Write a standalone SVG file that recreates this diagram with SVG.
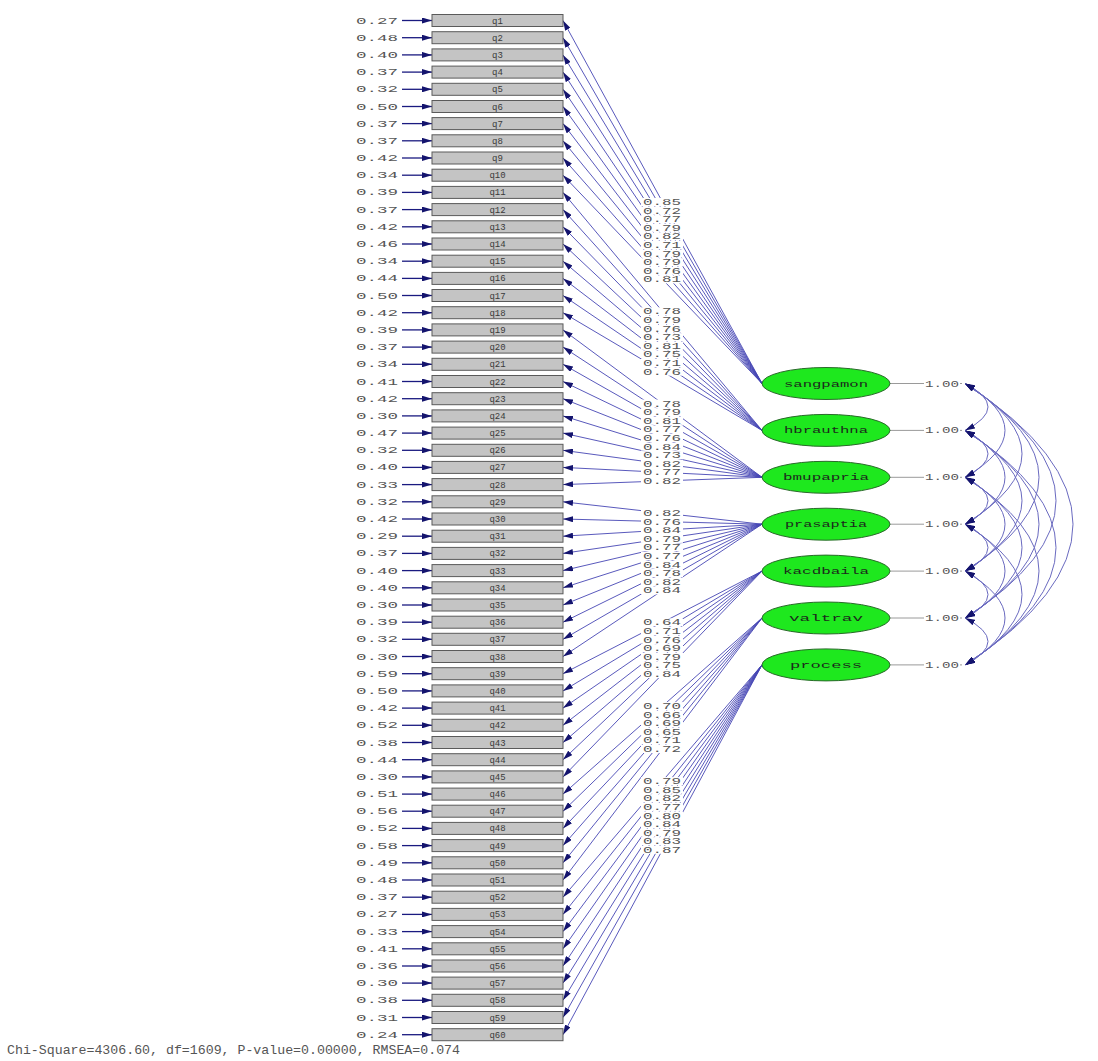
<svg xmlns="http://www.w3.org/2000/svg" width="1098" height="1061" viewBox="0 0 1098 1061">
<defs>
<marker id="ah" viewBox="0 0 10 6" refX="10" refY="3" markerWidth="10" markerHeight="6" markerUnits="userSpaceOnUse" orient="auto-start-reverse"><path d="M0,0L10,3L0,6z" fill="#14146e"/></marker>
<style>
.box{fill:#c4c4c4;stroke:#5a5a5a;stroke-width:1}
.bl{font-family:"Liberation Mono",monospace;font-size:9px;fill:#3a3a3a;text-anchor:middle}
.err{font-family:"Liberation Mono",monospace;font-size:8.5px;fill:#555;text-anchor:middle}
.ea{stroke:#1a1a80;stroke-width:1.3;fill:none;marker-end:url(#ah)}
.ld{stroke:#4646b4;stroke-width:0.9;fill:none;marker-end:url(#ah)}
.cv{stroke:#6a6ac0;stroke-width:1;fill:none;marker-start:url(#ah);marker-end:url(#ah)}
.vl{stroke:#9a9a9a;stroke-width:1;fill:none}
.lb rect{fill:#fff}
.lb text,.vt{font-family:"Liberation Mono",monospace;font-size:8.5px;fill:#555;text-anchor:middle}
.lat{fill:#1ee81e;stroke:#2a6a2a;stroke-width:1}
.lt{font-family:"Liberation Mono",monospace;font-size:9px;fill:#1c2a1c;text-anchor:middle}
.ft{font-family:"Liberation Mono",monospace;font-size:13.5px;fill:#555}
</style>
</defs>
<rect width="1098" height="1061" fill="#fff"/>
<g id="connectors">
<g id="error-arrows">
<path class="ea" d="M402 20.5H432"/><path class="ea" d="M402 37.7H432"/><path class="ea" d="M402 54.9H432"/><path class="ea" d="M402 72.1H432"/><path class="ea" d="M402 89.3H432"/><path class="ea" d="M402 106.5H432"/><path class="ea" d="M402 123.6H432"/><path class="ea" d="M402 140.8H432"/><path class="ea" d="M402 158H432"/><path class="ea" d="M402 175.2H432"/>
<path class="ea" d="M402 192.4H432"/><path class="ea" d="M402 209.6H432"/><path class="ea" d="M402 226.8H432"/><path class="ea" d="M402 244H432"/><path class="ea" d="M402 261.2H432"/><path class="ea" d="M402 278.4H432"/><path class="ea" d="M402 295.5H432"/><path class="ea" d="M402 312.7H432"/><path class="ea" d="M402 329.9H432"/><path class="ea" d="M402 347.1H432"/>
<path class="ea" d="M402 364.3H432"/><path class="ea" d="M402 381.5H432"/><path class="ea" d="M402 398.7H432"/><path class="ea" d="M402 415.9H432"/><path class="ea" d="M402 433.1H432"/><path class="ea" d="M402 450.3H432"/><path class="ea" d="M402 467.4H432"/><path class="ea" d="M402 484.6H432"/><path class="ea" d="M402 501.8H432"/><path class="ea" d="M402 519H432"/>
<path class="ea" d="M402 536.2H432"/><path class="ea" d="M402 553.4H432"/><path class="ea" d="M402 570.6H432"/><path class="ea" d="M402 587.8H432"/><path class="ea" d="M402 605H432"/><path class="ea" d="M402 622.2H432"/><path class="ea" d="M402 639.3H432"/><path class="ea" d="M402 656.5H432"/><path class="ea" d="M402 673.7H432"/><path class="ea" d="M402 690.9H432"/>
<path class="ea" d="M402 708.1H432"/><path class="ea" d="M402 725.3H432"/><path class="ea" d="M402 742.5H432"/><path class="ea" d="M402 759.7H432"/><path class="ea" d="M402 776.9H432"/><path class="ea" d="M402 794.1H432"/><path class="ea" d="M402 811.2H432"/><path class="ea" d="M402 828.4H432"/><path class="ea" d="M402 845.6H432"/><path class="ea" d="M402 862.8H432"/>
<path class="ea" d="M402 880H432"/><path class="ea" d="M402 897.2H432"/><path class="ea" d="M402 914.4H432"/><path class="ea" d="M402 931.6H432"/><path class="ea" d="M402 948.8H432"/><path class="ea" d="M402 966H432"/><path class="ea" d="M402 983.1H432"/><path class="ea" d="M402 1000.3H432"/><path class="ea" d="M402 1017.5H432"/><path class="ea" d="M402 1034.7H432"/>
</g>
<g id="loadings">
<path class="ld" d="M762 383.5L563 20.5"/><path class="ld" d="M762 383.5L563 37.7"/><path class="ld" d="M762 383.5L563 54.9"/><path class="ld" d="M762 383.5L563 72.1"/><path class="ld" d="M762 383.5L563 89.3"/><path class="ld" d="M762 383.5L563 106.5"/><path class="ld" d="M762 383.5L563 123.6"/><path class="ld" d="M762 383.5L563 140.8"/><path class="ld" d="M762 383.5L563 158"/><path class="ld" d="M762 383.5L563 175.2"/>
<path class="ld" d="M762 430.4L563 192.4"/><path class="ld" d="M762 430.4L563 209.6"/><path class="ld" d="M762 430.4L563 226.8"/><path class="ld" d="M762 430.4L563 244"/><path class="ld" d="M762 430.4L563 261.2"/><path class="ld" d="M762 430.4L563 278.4"/><path class="ld" d="M762 430.4L563 295.5"/><path class="ld" d="M762 430.4L563 312.7"/>
<path class="ld" d="M762 477.3L563 329.9"/><path class="ld" d="M762 477.3L563 347.1"/><path class="ld" d="M762 477.3L563 364.3"/><path class="ld" d="M762 477.3L563 381.5"/><path class="ld" d="M762 477.3L563 398.7"/><path class="ld" d="M762 477.3L563 415.9"/><path class="ld" d="M762 477.3L563 433.1"/><path class="ld" d="M762 477.3L563 450.3"/><path class="ld" d="M762 477.3L563 467.4"/><path class="ld" d="M762 477.3L563 484.6"/>
<path class="ld" d="M762 524.2L563 501.8"/><path class="ld" d="M762 524.2L563 519"/><path class="ld" d="M762 524.2L563 536.2"/><path class="ld" d="M762 524.2L563 553.4"/><path class="ld" d="M762 524.2L563 570.6"/><path class="ld" d="M762 524.2L563 587.8"/><path class="ld" d="M762 524.2L563 605"/><path class="ld" d="M762 524.2L563 622.2"/><path class="ld" d="M762 524.2L563 639.3"/><path class="ld" d="M762 524.2L563 656.5"/>
<path class="ld" d="M762 571.1L563 673.7"/><path class="ld" d="M762 571.1L563 690.9"/><path class="ld" d="M762 571.1L563 708.1"/><path class="ld" d="M762 571.1L563 725.3"/><path class="ld" d="M762 571.1L563 742.5"/><path class="ld" d="M762 571.1L563 759.7"/><path class="ld" d="M762 571.1L563 776.9"/>
<path class="ld" d="M762 618L563 794.1"/><path class="ld" d="M762 618L563 811.2"/><path class="ld" d="M762 618L563 828.4"/><path class="ld" d="M762 618L563 845.6"/><path class="ld" d="M762 618L563 862.8"/><path class="ld" d="M762 618L563 880"/>
<path class="ld" d="M762 664.9L563 897.2"/><path class="ld" d="M762 664.9L563 914.4"/><path class="ld" d="M762 664.9L563 931.6"/><path class="ld" d="M762 664.9L563 948.8"/><path class="ld" d="M762 664.9L563 966"/><path class="ld" d="M762 664.9L563 983.1"/><path class="ld" d="M762 664.9L563 1000.3"/><path class="ld" d="M762 664.9L563 1017.5"/><path class="ld" d="M762 664.9L563 1034.7"/>
</g>
<g id="variances">
<path class="vl" d="M890 383.5H962M890 430.4H962M890 477.3H962M890 524.2H962M890 571.1H962M890 618H962M890 664.9H962"/>
</g>
<g id="covariances">
<path class="cv" d="M965 383.5Q1011 406.95 965 430.4"/>
<path class="cv" d="M965 430.4Q1011 453.85 965 477.3"/>
<path class="cv" d="M965 477.3Q1011 500.75 965 524.2"/>
<path class="cv" d="M965 524.2Q1011 547.65 965 571.1"/>
<path class="cv" d="M965 571.1Q1011 594.55 965 618"/>
<path class="cv" d="M965 618Q1011 641.45 965 664.9"/>
<path class="cv" d="M965 383.5Q1045 430.4 965 477.3"/>
<path class="cv" d="M965 430.4Q1045 477.3 965 524.2"/>
<path class="cv" d="M965 477.3Q1045 524.2 965 571.1"/>
<path class="cv" d="M965 524.2Q1045 571.1 965 618"/>
<path class="cv" d="M965 571.1Q1045 618 965 664.9"/>
<path class="cv" d="M965 383.5Q1079 453.85 965 524.2"/>
<path class="cv" d="M965 430.4Q1079 500.75 965 571.1"/>
<path class="cv" d="M965 477.3Q1079 547.65 965 618"/>
<path class="cv" d="M965 524.2Q1079 594.55 965 664.9"/>
<path class="cv" d="M965 383.5Q1113 477.3 965 571.1"/>
<path class="cv" d="M965 430.4Q1113 524.2 965 618"/>
<path class="cv" d="M965 477.3Q1113 571.1 965 664.9"/>
<path class="cv" d="M965 383.5Q1147 500.75 965 618"/>
<path class="cv" d="M965 430.4Q1147 547.65 965 664.9"/>
<path class="cv" d="M965 383.5Q1181 524.2 965 664.9"/>
</g>
<g id="loading-labels" class="lb">
<g transform="translate(662,202)"><rect x="-21" y="-4" width="42" height="8"/><text y="3" textLength="38" lengthAdjust="spacingAndGlyphs">0.85</text></g>
<g transform="translate(662,210.6)"><rect x="-21" y="-4" width="42" height="8"/><text y="3" textLength="38" lengthAdjust="spacingAndGlyphs">0.72</text></g>
<g transform="translate(662,219.2)"><rect x="-21" y="-4" width="42" height="8"/><text y="3" textLength="38" lengthAdjust="spacingAndGlyphs">0.77</text></g>
<g transform="translate(662,227.8)"><rect x="-21" y="-4" width="42" height="8"/><text y="3" textLength="38" lengthAdjust="spacingAndGlyphs">0.79</text></g>
<g transform="translate(662,236.4)"><rect x="-21" y="-4" width="42" height="8"/><text y="3" textLength="38" lengthAdjust="spacingAndGlyphs">0.82</text></g>
<g transform="translate(662,245)"><rect x="-21" y="-4" width="42" height="8"/><text y="3" textLength="38" lengthAdjust="spacingAndGlyphs">0.71</text></g>
<g transform="translate(662,253.6)"><rect x="-21" y="-4" width="42" height="8"/><text y="3" textLength="38" lengthAdjust="spacingAndGlyphs">0.79</text></g>
<g transform="translate(662,262.2)"><rect x="-21" y="-4" width="42" height="8"/><text y="3" textLength="38" lengthAdjust="spacingAndGlyphs">0.79</text></g>
<g transform="translate(662,270.8)"><rect x="-21" y="-4" width="42" height="8"/><text y="3" textLength="38" lengthAdjust="spacingAndGlyphs">0.76</text></g>
<g transform="translate(662,279.4)"><rect x="-21" y="-4" width="42" height="8"/><text y="3" textLength="38" lengthAdjust="spacingAndGlyphs">0.81</text></g>
<g transform="translate(662,311.4)"><rect x="-21" y="-4" width="42" height="8"/><text y="3" textLength="38" lengthAdjust="spacingAndGlyphs">0.78</text></g>
<g transform="translate(662,320)"><rect x="-21" y="-4" width="42" height="8"/><text y="3" textLength="38" lengthAdjust="spacingAndGlyphs">0.79</text></g>
<g transform="translate(662,328.6)"><rect x="-21" y="-4" width="42" height="8"/><text y="3" textLength="38" lengthAdjust="spacingAndGlyphs">0.76</text></g>
<g transform="translate(662,337.2)"><rect x="-21" y="-4" width="42" height="8"/><text y="3" textLength="38" lengthAdjust="spacingAndGlyphs">0.73</text></g>
<g transform="translate(662,345.8)"><rect x="-21" y="-4" width="42" height="8"/><text y="3" textLength="38" lengthAdjust="spacingAndGlyphs">0.81</text></g>
<g transform="translate(662,354.4)"><rect x="-21" y="-4" width="42" height="8"/><text y="3" textLength="38" lengthAdjust="spacingAndGlyphs">0.75</text></g>
<g transform="translate(662,363)"><rect x="-21" y="-4" width="42" height="8"/><text y="3" textLength="38" lengthAdjust="spacingAndGlyphs">0.71</text></g>
<g transform="translate(662,371.6)"><rect x="-21" y="-4" width="42" height="8"/><text y="3" textLength="38" lengthAdjust="spacingAndGlyphs">0.76</text></g>
<g transform="translate(662,403.6)"><rect x="-21" y="-4" width="42" height="8"/><text y="3" textLength="38" lengthAdjust="spacingAndGlyphs">0.78</text></g>
<g transform="translate(662,412.2)"><rect x="-21" y="-4" width="42" height="8"/><text y="3" textLength="38" lengthAdjust="spacingAndGlyphs">0.79</text></g>
<g transform="translate(662,420.8)"><rect x="-21" y="-4" width="42" height="8"/><text y="3" textLength="38" lengthAdjust="spacingAndGlyphs">0.81</text></g>
<g transform="translate(662,429.4)"><rect x="-21" y="-4" width="42" height="8"/><text y="3" textLength="38" lengthAdjust="spacingAndGlyphs">0.77</text></g>
<g transform="translate(662,438)"><rect x="-21" y="-4" width="42" height="8"/><text y="3" textLength="38" lengthAdjust="spacingAndGlyphs">0.76</text></g>
<g transform="translate(662,446.6)"><rect x="-21" y="-4" width="42" height="8"/><text y="3" textLength="38" lengthAdjust="spacingAndGlyphs">0.84</text></g>
<g transform="translate(662,455.2)"><rect x="-21" y="-4" width="42" height="8"/><text y="3" textLength="38" lengthAdjust="spacingAndGlyphs">0.73</text></g>
<g transform="translate(662,463.8)"><rect x="-21" y="-4" width="42" height="8"/><text y="3" textLength="38" lengthAdjust="spacingAndGlyphs">0.82</text></g>
<g transform="translate(662,472.4)"><rect x="-21" y="-4" width="42" height="8"/><text y="3" textLength="38" lengthAdjust="spacingAndGlyphs">0.77</text></g>
<g transform="translate(662,481)"><rect x="-21" y="-4" width="42" height="8"/><text y="3" textLength="38" lengthAdjust="spacingAndGlyphs">0.82</text></g>
<g transform="translate(662,513)"><rect x="-21" y="-4" width="42" height="8"/><text y="3" textLength="38" lengthAdjust="spacingAndGlyphs">0.82</text></g>
<g transform="translate(662,521.6)"><rect x="-21" y="-4" width="42" height="8"/><text y="3" textLength="38" lengthAdjust="spacingAndGlyphs">0.76</text></g>
<g transform="translate(662,530.2)"><rect x="-21" y="-4" width="42" height="8"/><text y="3" textLength="38" lengthAdjust="spacingAndGlyphs">0.84</text></g>
<g transform="translate(662,538.8)"><rect x="-21" y="-4" width="42" height="8"/><text y="3" textLength="38" lengthAdjust="spacingAndGlyphs">0.79</text></g>
<g transform="translate(662,547.4)"><rect x="-21" y="-4" width="42" height="8"/><text y="3" textLength="38" lengthAdjust="spacingAndGlyphs">0.77</text></g>
<g transform="translate(662,556)"><rect x="-21" y="-4" width="42" height="8"/><text y="3" textLength="38" lengthAdjust="spacingAndGlyphs">0.77</text></g>
<g transform="translate(662,564.6)"><rect x="-21" y="-4" width="42" height="8"/><text y="3" textLength="38" lengthAdjust="spacingAndGlyphs">0.84</text></g>
<g transform="translate(662,573.2)"><rect x="-21" y="-4" width="42" height="8"/><text y="3" textLength="38" lengthAdjust="spacingAndGlyphs">0.78</text></g>
<g transform="translate(662,581.8)"><rect x="-21" y="-4" width="42" height="8"/><text y="3" textLength="38" lengthAdjust="spacingAndGlyphs">0.82</text></g>
<g transform="translate(662,590.4)"><rect x="-21" y="-4" width="42" height="8"/><text y="3" textLength="38" lengthAdjust="spacingAndGlyphs">0.84</text></g>
<g transform="translate(662,622.4)"><rect x="-21" y="-4" width="42" height="8"/><text y="3" textLength="38" lengthAdjust="spacingAndGlyphs">0.64</text></g>
<g transform="translate(662,631)"><rect x="-21" y="-4" width="42" height="8"/><text y="3" textLength="38" lengthAdjust="spacingAndGlyphs">0.71</text></g>
<g transform="translate(662,639.6)"><rect x="-21" y="-4" width="42" height="8"/><text y="3" textLength="38" lengthAdjust="spacingAndGlyphs">0.76</text></g>
<g transform="translate(662,648.2)"><rect x="-21" y="-4" width="42" height="8"/><text y="3" textLength="38" lengthAdjust="spacingAndGlyphs">0.69</text></g>
<g transform="translate(662,656.8)"><rect x="-21" y="-4" width="42" height="8"/><text y="3" textLength="38" lengthAdjust="spacingAndGlyphs">0.79</text></g>
<g transform="translate(662,665.4)"><rect x="-21" y="-4" width="42" height="8"/><text y="3" textLength="38" lengthAdjust="spacingAndGlyphs">0.75</text></g>
<g transform="translate(662,674)"><rect x="-21" y="-4" width="42" height="8"/><text y="3" textLength="38" lengthAdjust="spacingAndGlyphs">0.84</text></g>
<g transform="translate(662,706.1)"><rect x="-21" y="-4" width="42" height="8"/><text y="3" textLength="38" lengthAdjust="spacingAndGlyphs">0.70</text></g>
<g transform="translate(662,714.6)"><rect x="-21" y="-4" width="42" height="8"/><text y="3" textLength="38" lengthAdjust="spacingAndGlyphs">0.66</text></g>
<g transform="translate(662,723.2)"><rect x="-21" y="-4" width="42" height="8"/><text y="3" textLength="38" lengthAdjust="spacingAndGlyphs">0.69</text></g>
<g transform="translate(662,731.8)"><rect x="-21" y="-4" width="42" height="8"/><text y="3" textLength="38" lengthAdjust="spacingAndGlyphs">0.65</text></g>
<g transform="translate(662,740.4)"><rect x="-21" y="-4" width="42" height="8"/><text y="3" textLength="38" lengthAdjust="spacingAndGlyphs">0.71</text></g>
<g transform="translate(662,749)"><rect x="-21" y="-4" width="42" height="8"/><text y="3" textLength="38" lengthAdjust="spacingAndGlyphs">0.72</text></g>
<g transform="translate(662,781.1)"><rect x="-21" y="-4" width="42" height="8"/><text y="3" textLength="38" lengthAdjust="spacingAndGlyphs">0.79</text></g>
<g transform="translate(662,789.7)"><rect x="-21" y="-4" width="42" height="8"/><text y="3" textLength="38" lengthAdjust="spacingAndGlyphs">0.85</text></g>
<g transform="translate(662,798.3)"><rect x="-21" y="-4" width="42" height="8"/><text y="3" textLength="38" lengthAdjust="spacingAndGlyphs">0.82</text></g>
<g transform="translate(662,806.9)"><rect x="-21" y="-4" width="42" height="8"/><text y="3" textLength="38" lengthAdjust="spacingAndGlyphs">0.77</text></g>
<g transform="translate(662,815.5)"><rect x="-21" y="-4" width="42" height="8"/><text y="3" textLength="38" lengthAdjust="spacingAndGlyphs">0.80</text></g>
<g transform="translate(662,824)"><rect x="-21" y="-4" width="42" height="8"/><text y="3" textLength="38" lengthAdjust="spacingAndGlyphs">0.84</text></g>
<g transform="translate(662,832.6)"><rect x="-21" y="-4" width="42" height="8"/><text y="3" textLength="38" lengthAdjust="spacingAndGlyphs">0.79</text></g>
<g transform="translate(662,841.2)"><rect x="-21" y="-4" width="42" height="8"/><text y="3" textLength="38" lengthAdjust="spacingAndGlyphs">0.83</text></g>
<g transform="translate(662,849.8)"><rect x="-21" y="-4" width="42" height="8"/><text y="3" textLength="38" lengthAdjust="spacingAndGlyphs">0.87</text></g>
</g>
<g id="variance-labels">
<rect x="924" y="379" width="36" height="9" fill="#fff"/><text class="vt" x="942" y="386.5" textLength="34" lengthAdjust="spacingAndGlyphs">1.00</text>
<rect x="924" y="425.9" width="36" height="9" fill="#fff"/><text class="vt" x="942" y="433.4" textLength="34" lengthAdjust="spacingAndGlyphs">1.00</text>
<rect x="924" y="472.8" width="36" height="9" fill="#fff"/><text class="vt" x="942" y="480.3" textLength="34" lengthAdjust="spacingAndGlyphs">1.00</text>
<rect x="924" y="519.7" width="36" height="9" fill="#fff"/><text class="vt" x="942" y="527.2" textLength="34" lengthAdjust="spacingAndGlyphs">1.00</text>
<rect x="924" y="566.6" width="36" height="9" fill="#fff"/><text class="vt" x="942" y="574.1" textLength="34" lengthAdjust="spacingAndGlyphs">1.00</text>
<rect x="924" y="613.5" width="36" height="9" fill="#fff"/><text class="vt" x="942" y="621" textLength="34" lengthAdjust="spacingAndGlyphs">1.00</text>
<rect x="924" y="660.4" width="36" height="9" fill="#fff"/><text class="vt" x="942" y="667.9" textLength="34" lengthAdjust="spacingAndGlyphs">1.00</text>
</g>
</g>
<g id="indicators">
<g id="q1" transform="translate(0,20.5)"><rect class="box" x="432" y="-6" width="131" height="12"/><text class="bl" x="497.5" y="3">q1</text><text class="err" x="377" y="3" textLength="42" lengthAdjust="spacingAndGlyphs">0.27</text></g>
<g id="q2" transform="translate(0,37.7)"><rect class="box" x="432" y="-6" width="131" height="12"/><text class="bl" x="497.5" y="3">q2</text><text class="err" x="377" y="3" textLength="42" lengthAdjust="spacingAndGlyphs">0.48</text></g>
<g id="q3" transform="translate(0,54.9)"><rect class="box" x="432" y="-6" width="131" height="12"/><text class="bl" x="497.5" y="3">q3</text><text class="err" x="377" y="3" textLength="42" lengthAdjust="spacingAndGlyphs">0.40</text></g>
<g id="q4" transform="translate(0,72.1)"><rect class="box" x="432" y="-6" width="131" height="12"/><text class="bl" x="497.5" y="3">q4</text><text class="err" x="377" y="3" textLength="42" lengthAdjust="spacingAndGlyphs">0.37</text></g>
<g id="q5" transform="translate(0,89.3)"><rect class="box" x="432" y="-6" width="131" height="12"/><text class="bl" x="497.5" y="3">q5</text><text class="err" x="377" y="3" textLength="42" lengthAdjust="spacingAndGlyphs">0.32</text></g>
<g id="q6" transform="translate(0,106.5)"><rect class="box" x="432" y="-6" width="131" height="12"/><text class="bl" x="497.5" y="3">q6</text><text class="err" x="377" y="3" textLength="42" lengthAdjust="spacingAndGlyphs">0.50</text></g>
<g id="q7" transform="translate(0,123.6)"><rect class="box" x="432" y="-6" width="131" height="12"/><text class="bl" x="497.5" y="3">q7</text><text class="err" x="377" y="3" textLength="42" lengthAdjust="spacingAndGlyphs">0.37</text></g>
<g id="q8" transform="translate(0,140.8)"><rect class="box" x="432" y="-6" width="131" height="12"/><text class="bl" x="497.5" y="3">q8</text><text class="err" x="377" y="3" textLength="42" lengthAdjust="spacingAndGlyphs">0.37</text></g>
<g id="q9" transform="translate(0,158)"><rect class="box" x="432" y="-6" width="131" height="12"/><text class="bl" x="497.5" y="3">q9</text><text class="err" x="377" y="3" textLength="42" lengthAdjust="spacingAndGlyphs">0.42</text></g>
<g id="q10" transform="translate(0,175.2)"><rect class="box" x="432" y="-6" width="131" height="12"/><text class="bl" x="497.5" y="3">q10</text><text class="err" x="377" y="3" textLength="42" lengthAdjust="spacingAndGlyphs">0.34</text></g>
<g id="q11" transform="translate(0,192.4)"><rect class="box" x="432" y="-6" width="131" height="12"/><text class="bl" x="497.5" y="3">q11</text><text class="err" x="377" y="3" textLength="42" lengthAdjust="spacingAndGlyphs">0.39</text></g>
<g id="q12" transform="translate(0,209.6)"><rect class="box" x="432" y="-6" width="131" height="12"/><text class="bl" x="497.5" y="3">q12</text><text class="err" x="377" y="3" textLength="42" lengthAdjust="spacingAndGlyphs">0.37</text></g>
<g id="q13" transform="translate(0,226.8)"><rect class="box" x="432" y="-6" width="131" height="12"/><text class="bl" x="497.5" y="3">q13</text><text class="err" x="377" y="3" textLength="42" lengthAdjust="spacingAndGlyphs">0.42</text></g>
<g id="q14" transform="translate(0,244)"><rect class="box" x="432" y="-6" width="131" height="12"/><text class="bl" x="497.5" y="3">q14</text><text class="err" x="377" y="3" textLength="42" lengthAdjust="spacingAndGlyphs">0.46</text></g>
<g id="q15" transform="translate(0,261.2)"><rect class="box" x="432" y="-6" width="131" height="12"/><text class="bl" x="497.5" y="3">q15</text><text class="err" x="377" y="3" textLength="42" lengthAdjust="spacingAndGlyphs">0.34</text></g>
<g id="q16" transform="translate(0,278.4)"><rect class="box" x="432" y="-6" width="131" height="12"/><text class="bl" x="497.5" y="3">q16</text><text class="err" x="377" y="3" textLength="42" lengthAdjust="spacingAndGlyphs">0.44</text></g>
<g id="q17" transform="translate(0,295.5)"><rect class="box" x="432" y="-6" width="131" height="12"/><text class="bl" x="497.5" y="3">q17</text><text class="err" x="377" y="3" textLength="42" lengthAdjust="spacingAndGlyphs">0.50</text></g>
<g id="q18" transform="translate(0,312.7)"><rect class="box" x="432" y="-6" width="131" height="12"/><text class="bl" x="497.5" y="3">q18</text><text class="err" x="377" y="3" textLength="42" lengthAdjust="spacingAndGlyphs">0.42</text></g>
<g id="q19" transform="translate(0,329.9)"><rect class="box" x="432" y="-6" width="131" height="12"/><text class="bl" x="497.5" y="3">q19</text><text class="err" x="377" y="3" textLength="42" lengthAdjust="spacingAndGlyphs">0.39</text></g>
<g id="q20" transform="translate(0,347.1)"><rect class="box" x="432" y="-6" width="131" height="12"/><text class="bl" x="497.5" y="3">q20</text><text class="err" x="377" y="3" textLength="42" lengthAdjust="spacingAndGlyphs">0.37</text></g>
<g id="q21" transform="translate(0,364.3)"><rect class="box" x="432" y="-6" width="131" height="12"/><text class="bl" x="497.5" y="3">q21</text><text class="err" x="377" y="3" textLength="42" lengthAdjust="spacingAndGlyphs">0.34</text></g>
<g id="q22" transform="translate(0,381.5)"><rect class="box" x="432" y="-6" width="131" height="12"/><text class="bl" x="497.5" y="3">q22</text><text class="err" x="377" y="3" textLength="42" lengthAdjust="spacingAndGlyphs">0.41</text></g>
<g id="q23" transform="translate(0,398.7)"><rect class="box" x="432" y="-6" width="131" height="12"/><text class="bl" x="497.5" y="3">q23</text><text class="err" x="377" y="3" textLength="42" lengthAdjust="spacingAndGlyphs">0.42</text></g>
<g id="q24" transform="translate(0,415.9)"><rect class="box" x="432" y="-6" width="131" height="12"/><text class="bl" x="497.5" y="3">q24</text><text class="err" x="377" y="3" textLength="42" lengthAdjust="spacingAndGlyphs">0.30</text></g>
<g id="q25" transform="translate(0,433.1)"><rect class="box" x="432" y="-6" width="131" height="12"/><text class="bl" x="497.5" y="3">q25</text><text class="err" x="377" y="3" textLength="42" lengthAdjust="spacingAndGlyphs">0.47</text></g>
<g id="q26" transform="translate(0,450.3)"><rect class="box" x="432" y="-6" width="131" height="12"/><text class="bl" x="497.5" y="3">q26</text><text class="err" x="377" y="3" textLength="42" lengthAdjust="spacingAndGlyphs">0.32</text></g>
<g id="q27" transform="translate(0,467.4)"><rect class="box" x="432" y="-6" width="131" height="12"/><text class="bl" x="497.5" y="3">q27</text><text class="err" x="377" y="3" textLength="42" lengthAdjust="spacingAndGlyphs">0.40</text></g>
<g id="q28" transform="translate(0,484.6)"><rect class="box" x="432" y="-6" width="131" height="12"/><text class="bl" x="497.5" y="3">q28</text><text class="err" x="377" y="3" textLength="42" lengthAdjust="spacingAndGlyphs">0.33</text></g>
<g id="q29" transform="translate(0,501.8)"><rect class="box" x="432" y="-6" width="131" height="12"/><text class="bl" x="497.5" y="3">q29</text><text class="err" x="377" y="3" textLength="42" lengthAdjust="spacingAndGlyphs">0.32</text></g>
<g id="q30" transform="translate(0,519)"><rect class="box" x="432" y="-6" width="131" height="12"/><text class="bl" x="497.5" y="3">q30</text><text class="err" x="377" y="3" textLength="42" lengthAdjust="spacingAndGlyphs">0.42</text></g>
<g id="q31" transform="translate(0,536.2)"><rect class="box" x="432" y="-6" width="131" height="12"/><text class="bl" x="497.5" y="3">q31</text><text class="err" x="377" y="3" textLength="42" lengthAdjust="spacingAndGlyphs">0.29</text></g>
<g id="q32" transform="translate(0,553.4)"><rect class="box" x="432" y="-6" width="131" height="12"/><text class="bl" x="497.5" y="3">q32</text><text class="err" x="377" y="3" textLength="42" lengthAdjust="spacingAndGlyphs">0.37</text></g>
<g id="q33" transform="translate(0,570.6)"><rect class="box" x="432" y="-6" width="131" height="12"/><text class="bl" x="497.5" y="3">q33</text><text class="err" x="377" y="3" textLength="42" lengthAdjust="spacingAndGlyphs">0.40</text></g>
<g id="q34" transform="translate(0,587.8)"><rect class="box" x="432" y="-6" width="131" height="12"/><text class="bl" x="497.5" y="3">q34</text><text class="err" x="377" y="3" textLength="42" lengthAdjust="spacingAndGlyphs">0.40</text></g>
<g id="q35" transform="translate(0,605)"><rect class="box" x="432" y="-6" width="131" height="12"/><text class="bl" x="497.5" y="3">q35</text><text class="err" x="377" y="3" textLength="42" lengthAdjust="spacingAndGlyphs">0.30</text></g>
<g id="q36" transform="translate(0,622.2)"><rect class="box" x="432" y="-6" width="131" height="12"/><text class="bl" x="497.5" y="3">q36</text><text class="err" x="377" y="3" textLength="42" lengthAdjust="spacingAndGlyphs">0.39</text></g>
<g id="q37" transform="translate(0,639.3)"><rect class="box" x="432" y="-6" width="131" height="12"/><text class="bl" x="497.5" y="3">q37</text><text class="err" x="377" y="3" textLength="42" lengthAdjust="spacingAndGlyphs">0.32</text></g>
<g id="q38" transform="translate(0,656.5)"><rect class="box" x="432" y="-6" width="131" height="12"/><text class="bl" x="497.5" y="3">q38</text><text class="err" x="377" y="3" textLength="42" lengthAdjust="spacingAndGlyphs">0.30</text></g>
<g id="q39" transform="translate(0,673.7)"><rect class="box" x="432" y="-6" width="131" height="12"/><text class="bl" x="497.5" y="3">q39</text><text class="err" x="377" y="3" textLength="42" lengthAdjust="spacingAndGlyphs">0.59</text></g>
<g id="q40" transform="translate(0,690.9)"><rect class="box" x="432" y="-6" width="131" height="12"/><text class="bl" x="497.5" y="3">q40</text><text class="err" x="377" y="3" textLength="42" lengthAdjust="spacingAndGlyphs">0.50</text></g>
<g id="q41" transform="translate(0,708.1)"><rect class="box" x="432" y="-6" width="131" height="12"/><text class="bl" x="497.5" y="3">q41</text><text class="err" x="377" y="3" textLength="42" lengthAdjust="spacingAndGlyphs">0.42</text></g>
<g id="q42" transform="translate(0,725.3)"><rect class="box" x="432" y="-6" width="131" height="12"/><text class="bl" x="497.5" y="3">q42</text><text class="err" x="377" y="3" textLength="42" lengthAdjust="spacingAndGlyphs">0.52</text></g>
<g id="q43" transform="translate(0,742.5)"><rect class="box" x="432" y="-6" width="131" height="12"/><text class="bl" x="497.5" y="3">q43</text><text class="err" x="377" y="3" textLength="42" lengthAdjust="spacingAndGlyphs">0.38</text></g>
<g id="q44" transform="translate(0,759.7)"><rect class="box" x="432" y="-6" width="131" height="12"/><text class="bl" x="497.5" y="3">q44</text><text class="err" x="377" y="3" textLength="42" lengthAdjust="spacingAndGlyphs">0.44</text></g>
<g id="q45" transform="translate(0,776.9)"><rect class="box" x="432" y="-6" width="131" height="12"/><text class="bl" x="497.5" y="3">q45</text><text class="err" x="377" y="3" textLength="42" lengthAdjust="spacingAndGlyphs">0.30</text></g>
<g id="q46" transform="translate(0,794.1)"><rect class="box" x="432" y="-6" width="131" height="12"/><text class="bl" x="497.5" y="3">q46</text><text class="err" x="377" y="3" textLength="42" lengthAdjust="spacingAndGlyphs">0.51</text></g>
<g id="q47" transform="translate(0,811.2)"><rect class="box" x="432" y="-6" width="131" height="12"/><text class="bl" x="497.5" y="3">q47</text><text class="err" x="377" y="3" textLength="42" lengthAdjust="spacingAndGlyphs">0.56</text></g>
<g id="q48" transform="translate(0,828.4)"><rect class="box" x="432" y="-6" width="131" height="12"/><text class="bl" x="497.5" y="3">q48</text><text class="err" x="377" y="3" textLength="42" lengthAdjust="spacingAndGlyphs">0.52</text></g>
<g id="q49" transform="translate(0,845.6)"><rect class="box" x="432" y="-6" width="131" height="12"/><text class="bl" x="497.5" y="3">q49</text><text class="err" x="377" y="3" textLength="42" lengthAdjust="spacingAndGlyphs">0.58</text></g>
<g id="q50" transform="translate(0,862.8)"><rect class="box" x="432" y="-6" width="131" height="12"/><text class="bl" x="497.5" y="3">q50</text><text class="err" x="377" y="3" textLength="42" lengthAdjust="spacingAndGlyphs">0.49</text></g>
<g id="q51" transform="translate(0,880)"><rect class="box" x="432" y="-6" width="131" height="12"/><text class="bl" x="497.5" y="3">q51</text><text class="err" x="377" y="3" textLength="42" lengthAdjust="spacingAndGlyphs">0.48</text></g>
<g id="q52" transform="translate(0,897.2)"><rect class="box" x="432" y="-6" width="131" height="12"/><text class="bl" x="497.5" y="3">q52</text><text class="err" x="377" y="3" textLength="42" lengthAdjust="spacingAndGlyphs">0.37</text></g>
<g id="q53" transform="translate(0,914.4)"><rect class="box" x="432" y="-6" width="131" height="12"/><text class="bl" x="497.5" y="3">q53</text><text class="err" x="377" y="3" textLength="42" lengthAdjust="spacingAndGlyphs">0.27</text></g>
<g id="q54" transform="translate(0,931.6)"><rect class="box" x="432" y="-6" width="131" height="12"/><text class="bl" x="497.5" y="3">q54</text><text class="err" x="377" y="3" textLength="42" lengthAdjust="spacingAndGlyphs">0.33</text></g>
<g id="q55" transform="translate(0,948.8)"><rect class="box" x="432" y="-6" width="131" height="12"/><text class="bl" x="497.5" y="3">q55</text><text class="err" x="377" y="3" textLength="42" lengthAdjust="spacingAndGlyphs">0.41</text></g>
<g id="q56" transform="translate(0,966)"><rect class="box" x="432" y="-6" width="131" height="12"/><text class="bl" x="497.5" y="3">q56</text><text class="err" x="377" y="3" textLength="42" lengthAdjust="spacingAndGlyphs">0.36</text></g>
<g id="q57" transform="translate(0,983.1)"><rect class="box" x="432" y="-6" width="131" height="12"/><text class="bl" x="497.5" y="3">q57</text><text class="err" x="377" y="3" textLength="42" lengthAdjust="spacingAndGlyphs">0.30</text></g>
<g id="q58" transform="translate(0,1000.3)"><rect class="box" x="432" y="-6" width="131" height="12"/><text class="bl" x="497.5" y="3">q58</text><text class="err" x="377" y="3" textLength="42" lengthAdjust="spacingAndGlyphs">0.38</text></g>
<g id="q59" transform="translate(0,1017.5)"><rect class="box" x="432" y="-6" width="131" height="12"/><text class="bl" x="497.5" y="3">q59</text><text class="err" x="377" y="3" textLength="42" lengthAdjust="spacingAndGlyphs">0.31</text></g>
<g id="q60" transform="translate(0,1034.7)"><rect class="box" x="432" y="-6" width="131" height="12"/><text class="bl" x="497.5" y="3">q60</text><text class="err" x="377" y="3" textLength="42" lengthAdjust="spacingAndGlyphs">0.24</text></g>
</g>
<g id="latents">
<g id="f1" transform="translate(826,383.5)"><ellipse class="lat" rx="64" ry="16"/><text class="lt" y="3" textLength="84" lengthAdjust="spacingAndGlyphs">sangpamon</text></g>
<g id="f2" transform="translate(826,430.4)"><ellipse class="lat" rx="64" ry="16"/><text class="lt" y="3" textLength="84" lengthAdjust="spacingAndGlyphs">hbrauthna</text></g>
<g id="f3" transform="translate(826,477.3)"><ellipse class="lat" rx="64" ry="16"/><text class="lt" y="3" textLength="86" lengthAdjust="spacingAndGlyphs">bmupapria</text></g>
<g id="f4" transform="translate(826,524.2)"><ellipse class="lat" rx="64" ry="16"/><text class="lt" y="3" textLength="82" lengthAdjust="spacingAndGlyphs">prasaptia</text></g>
<g id="f5" transform="translate(826,571.1)"><ellipse class="lat" rx="64" ry="16"/><text class="lt" y="3" textLength="86" lengthAdjust="spacingAndGlyphs">kacdbaila</text></g>
<g id="f6" transform="translate(826,618)"><ellipse class="lat" rx="64" ry="16"/><text class="lt" y="3" textLength="74" lengthAdjust="spacingAndGlyphs">valtrav</text></g>
<g id="f7" transform="translate(826,664.9)"><ellipse class="lat" rx="64" ry="16"/><text class="lt" y="3" textLength="72" lengthAdjust="spacingAndGlyphs">process</text></g>
</g>
<text class="ft" x="7" y="1054" textLength="453" lengthAdjust="spacingAndGlyphs">Chi-Square=4306.60, df=1609, P-value=0.00000, RMSEA=0.074</text>
</svg>
